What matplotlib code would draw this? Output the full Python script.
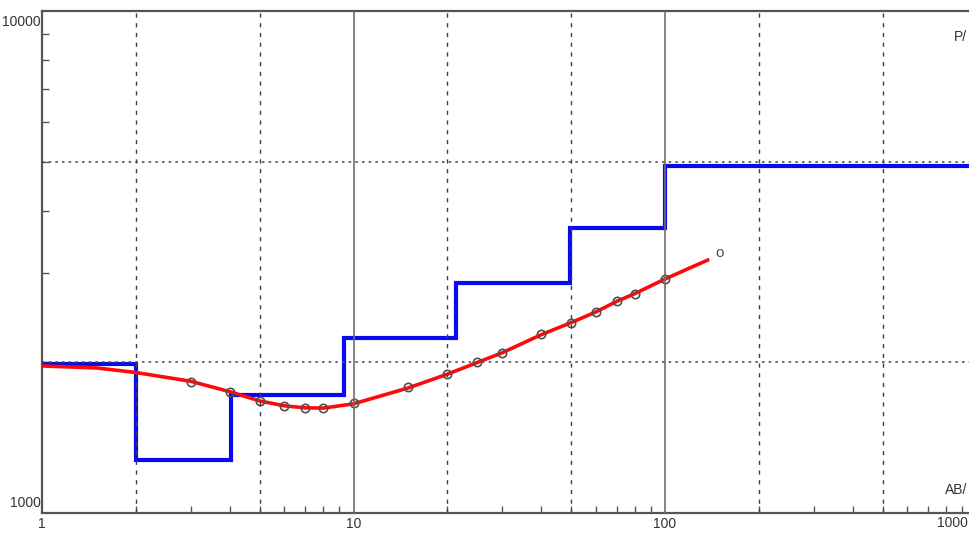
import matplotlib
matplotlib.use("Agg")
import matplotlib.pyplot as plt
from matplotlib.ticker import FixedLocator, NullFormatter, LogLocator
import matplotlib.transforms as mtransforms

plt.rcParams['font.family'] = ['Liberation Sans Narrow', 'Liberation Sans', 'DejaVu Sans']

# Layer model (step curve): boundaries in AB/2 and resistivity per layer
layer_bounds = [1, 2, 4.05, 9.3, 21.3, 49.6, 100, 1000]
layer_rho = [1985, 1275, 1718, 2232, 2872, 3695, 4912]

# Measured apparent resistivity (circles)
meas_x = [3, 4, 5, 6, 7, 8, 10, 15, 20, 25, 30, 40, 50, 60, 70, 80, 100]
meas_y = [1827, 1742, 1672, 1634, 1619, 1619, 1656, 1782, 1892, 1999, 2084,
          2273, 2390, 2514, 2644, 2731, 2925]
extra_x = [150]
extra_y = [3300]

# Computed curve (red)
calc_x = [1, 1.5, 2, 3, 4, 5, 6, 7, 8, 10, 15, 20, 25, 30, 40, 50, 60, 70, 80, 100, 137]
calc_y = [1963, 1945, 1905, 1830, 1745, 1672, 1635, 1620, 1618, 1650, 1775, 1890,
          1995, 2085, 2265, 2395, 2515, 2640, 2735, 2925, 3190]

xticks = [1, 10, 100]
xticklabels = ['1', '10', '100']
last_xlabel = '1000'
yticks = [1000, 10000]
yticklabels = ['1000', '10000']

fig = plt.figure(figsize=(9.69, 5.33), dpi=100)
ax = fig.add_axes([42/969, 20/533, 927/969, 502/533])
ax.set_xscale('log')
ax.set_yscale('log')
ax.set_xlim(1, 10 ** (927 / 311.5))
ax.set_ylim(1000, 10000)

# step curve
sx = []
sy = []
for i, r in enumerate(layer_rho):
    sx += [layer_bounds[i], layer_bounds[i+1]]
    sy += [r, r]
ax.plot(sx, sy, color='#0a0af0', lw=3.0, zorder=3, solid_joinstyle='miter')

ax.plot(calc_x, calc_y, color='#ff0a0a', lw=2.6, zorder=4)
ax.plot(meas_x, meas_y, linestyle='none', marker='o', ms=6, mfc='none',
        mec='#505050', mew=1.2, zorder=5)
for x, y in zip(extra_x, extra_y):
    ax.text(x, y, 'o', color='#505050', fontsize=11, ha='center', va='center', zorder=6)

# grid lines (drawn over the data, like the reference)
for v in [10, 100]:
    ax.axvline(v, color='#707070', lw=1.2, zorder=6)
for v in [2, 5, 20, 50, 200, 500]:
    ax.axvline(v, color='#404040', lw=1.0, ls=(0, (3, 4)), zorder=6)
for h in [2000, 5000]:
    ax.axhline(h, color='#505050', lw=1.2, ls=(0, (1.5, 2.5)), zorder=6)

for s in ['left', 'bottom', 'top']:
    ax.spines[s].set_color('#555555')
    ax.spines[s].set_linewidth(1.6)
ax.spines['right'].set_visible(False)

ax.xaxis.set_major_locator(FixedLocator(xticks))
ax.set_xticklabels(xticklabels)
ax.yaxis.set_major_locator(FixedLocator(yticks))
ax.set_yticklabels(yticklabels)
ax.xaxis.set_minor_locator(LogLocator(base=10, subs=range(2, 10)))
ax.yaxis.set_minor_locator(LogLocator(base=10, subs=range(2, 10)))
ax.xaxis.set_minor_formatter(NullFormatter())
ax.yaxis.set_minor_formatter(NullFormatter())
ax.tick_params(which='major', length=0, labelsize=10, labelcolor='#333333', pad=1)
ax.tick_params(which='minor', direction='in', length=5, width=1.0, color='#555555')
ax.tick_params(axis='x', which='major', pad=3)

for lbl in ax.get_yticklabels():
    if lbl.get_text() == '10000':
        lbl.set_va('top')
        lbl.set_transform(lbl.get_transform() + mtransforms.ScaledTranslation(0, -4/100, fig.dpi_scale_trans))
    else:
        lbl.set_va('bottom')
        lbl.set_transform(lbl.get_transform() + mtransforms.ScaledTranslation(0, 3/100, fig.dpi_scale_trans))

fig.text(968/969, 1 - 516/533, last_xlabel, fontsize=10, color='#333333', ha='right', va='top')
fig.text(967/969, 1 - 37/533, 'P/', fontsize=10, color='#333333', ha='right', va='center')
fig.text(967/969, 1 - 490/533, 'AB/', fontsize=10, color='#333333', ha='right', va='center')

fig.savefig('out.png', dpi=100)
